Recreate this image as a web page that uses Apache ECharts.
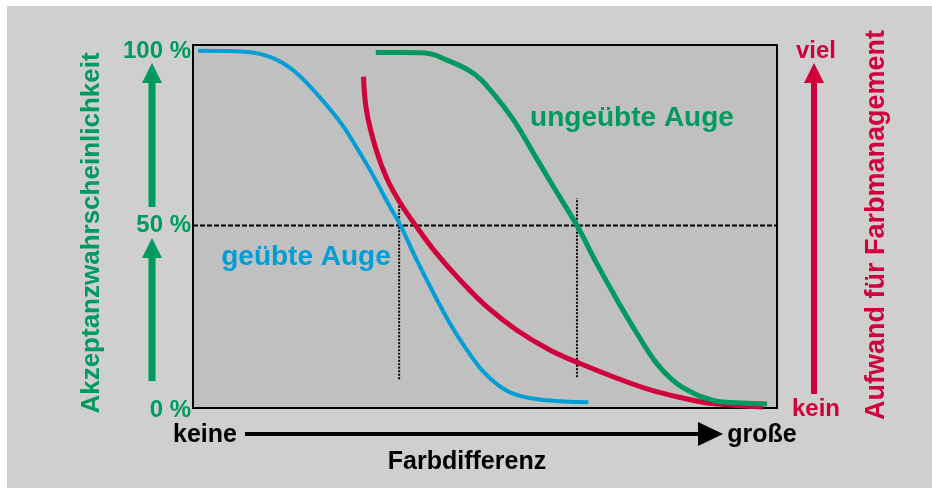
<!DOCTYPE html>
<html><head><meta charset="utf-8">
<script src="https://cdn.jsdelivr.net/npm/echarts@6/dist/echarts.min.js"></script>
<style>html,body{margin:0;padding:0;background:#fff}#c{width:932px;height:488px}</style>
</head><body><div id="c"></div>
<script>
// x: Farbdifferenz (0 = keine, 100 = große); y: Akzeptanzwahrscheinlichkeit / Aufwand (0..100)
const blueX = [0.9, 9.3, 13.2, 17.1, 21.5, 25.2, 26.9, 30.3, 33.7, 35.5, 38.3, 41.2, 44.0, 46.9, 49.7, 52.6, 55.4, 60.0, 67.7];
const blueY = [98.4, 98.1, 96.7, 93.1, 86.0, 78.8, 74.7, 65.6, 55.5, 50.4, 40.8, 31.6, 23.3, 16.0, 10.0, 5.9, 3.6, 2.2, 1.6];
const greenX = [31.3, 35.8, 39.7, 43.4, 48.0, 51.4, 54.9, 58.3, 61.7, 65.7, 69.1, 72.6, 76.0, 79.4, 82.8, 86.3, 88.5, 90.2, 98.3];
const greenY = [97.9, 97.9, 97.8, 95.9, 92.2, 86.7, 79.3, 70.2, 61.0, 50.4, 39.9, 29.8, 20.6, 12.3, 6.8, 3.6, 2.4, 1.7, 1.1];
const redX = [29.2, 29.7, 31.2, 33.2, 35.6, 38.3, 41.7, 45.7, 50.3, 55.4, 61.1, 66.8, 72.6, 78.3, 84.0, 88.5, 97.6];
const redY = [91.3, 82.1, 72.0, 63.2, 56.2, 49.9, 42.6, 35.3, 27.9, 21.5, 16.0, 11.9, 8.2, 5.0, 2.7, 1.3, 0.3];
const halfLine = [[0, 50.3], [100, 50.3]];
const guideGeuebt = [[35.3, 7.9], [35.3, 57.3]];
const guideUngeuebt = [[65.75, 8.5], [65.75, 57.8]];
const leftTicks = ['100 %', '50 %', '0 %'];
const leftTickValues = [98.6, 50.7, -0.5];
const rightTicks = ['viel', 'kein'];
const rightTickValues = [98.6, -0.1];
const curveLabels = ['geübte Auge', 'ungeübte Auge'];
const xEnds = ['keine', 'große'];
const xTitle = 'Farbdifferenz';
const yTitleLeft = 'Akzeptanzwahrscheinlichkeit';
const yTitleRight = 'Aufwand für Farbmanagement';

const GREEN = '#00995f', BLUE = '#009ed6', RED = '#d0003c';
const F = (s) => 'bold ' + s + 'px "Liberation Sans", Arial, sans-serif';
const zip = (a, b) => a.map((v, i) => [v, b[i]]);

const chart = echarts.init(document.getElementById('c'), null, {renderer: 'canvas'});
chart.setOption({
  backgroundColor: '#cfcfcf',
  animation: false,
  grid: {left: 193, top: 45, right: 155, bottom: 80, show: true,
         backgroundColor: '#c0c0c0', borderColor: '#000', borderWidth: 2},
  xAxis: {type: 'value', min: 0, max: 100, show: false},
  yAxis: {type: 'value', min: 0, max: 100, show: false},
  series: [
    {type: 'line', data: halfLine, symbol: 'none', silent: true,
     lineStyle: {color: '#000', width: 2, type: [5, 2]}},
    {type: 'line', data: guideGeuebt, symbol: 'none', silent: true,
     lineStyle: {color: '#000', width: 2, type: [2, 1.5]}},
    {type: 'line', data: guideUngeuebt, symbol: 'none', silent: true,
     lineStyle: {color: '#000', width: 2, type: [2, 1.5]}},
    {type: 'line', data: zip(blueX, blueY), symbol: 'none', smooth: 0.4,
     lineStyle: {color: BLUE, width: 4}},
    {type: 'line', data: zip(redX, redY), symbol: 'none', smooth: 0.4,
     lineStyle: {color: RED, width: 5}},
    {type: 'line', data: zip(greenX, greenY), symbol: 'none', smooth: 0.4,
     lineStyle: {color: GREEN, width: 5}}
  ]
});

const px = (x, y) => chart.convertToPixel({gridIndex: 0}, [x, y]);
const g = [];
// white margins
g.push({type: 'rect', shape: {x: 0, y: 0, width: 932, height: 6}, style: {fill: '#fff'}, silent: true});
g.push({type: 'rect', shape: {x: 0, y: 0, width: 7, height: 488}, style: {fill: '#fff'}, silent: true});
// left tick labels
leftTicks.forEach((t, i) => {
  const p = px(0, leftTickValues[i]);
  g.push({type: 'text', x: p[0] - 2, y: p[1] + 1, style: {text: t, fill: GREEN, font: F(24), align: 'right', verticalAlign: 'middle'}});
});
// right tick labels
rightTicks.forEach((t, i) => {
  const p = px(100, rightTickValues[i]);
  g.push({type: 'text', x: p[0] + 39, y: p[1] + 1, style: {text: t, fill: RED, font: F(24), align: 'center', verticalAlign: 'middle'}});
});
// arrows
function upArrow(x, tip, base, end, hw, sw, color) {
  g.push({type: 'polygon', shape: {points: [[x, tip], [x - hw, base], [x + hw, base]]}, style: {fill: color}});
  g.push({type: 'rect', shape: {x: x - sw / 2, y: base - 1, width: sw, height: end - base + 1}, style: {fill: color}});
}
upArrow(152, 63, 83, 207, 10, 7, GREEN);
upArrow(152, 238, 258, 381, 10, 7, GREEN);
upArrow(814, 63, 83, 394, 10, 6, RED);
// rotated titles
g.push({type: 'text', x: 92, y: 233, rotation: Math.PI / 2,
        style: {text: yTitleLeft, fill: GREEN, font: F(26), align: 'center', verticalAlign: 'middle'}});
g.push({type: 'text', x: 877, y: 225, rotation: Math.PI / 2,
        style: {text: yTitleRight, fill: RED, font: F(27), align: 'center', verticalAlign: 'middle'}});
// curve labels
g.push({type: 'text', x: 306, y: 257, style: {text: curveLabels[0], fill: BLUE, font: F(28), align: 'center', verticalAlign: 'middle'}});
g.push({type: 'text', x: 632, y: 118, style: {text: curveLabels[1], fill: GREEN, font: F(28), align: 'center', verticalAlign: 'middle'}});
// bottom axis arrow
g.push({type: 'text', x: 205, y: 435, style: {text: xEnds[0], fill: '#000', font: F(25), align: 'center', verticalAlign: 'middle'}});
g.push({type: 'text', x: 762, y: 435, style: {text: xEnds[1], fill: '#000', font: F(25), align: 'center', verticalAlign: 'middle'}});
g.push({type: 'rect', shape: {x: 245, y: 432, width: 456, height: 4}, style: {fill: '#000'}});
g.push({type: 'polygon', shape: {points: [[723, 434], [698, 422], [698, 446]]}, style: {fill: '#000'}});
g.push({type: 'text', x: 467, y: 462, style: {text: xTitle, fill: '#000', font: F(25), align: 'center', verticalAlign: 'middle'}});

chart.setOption({graphic: g});
</script>
</body></html>
